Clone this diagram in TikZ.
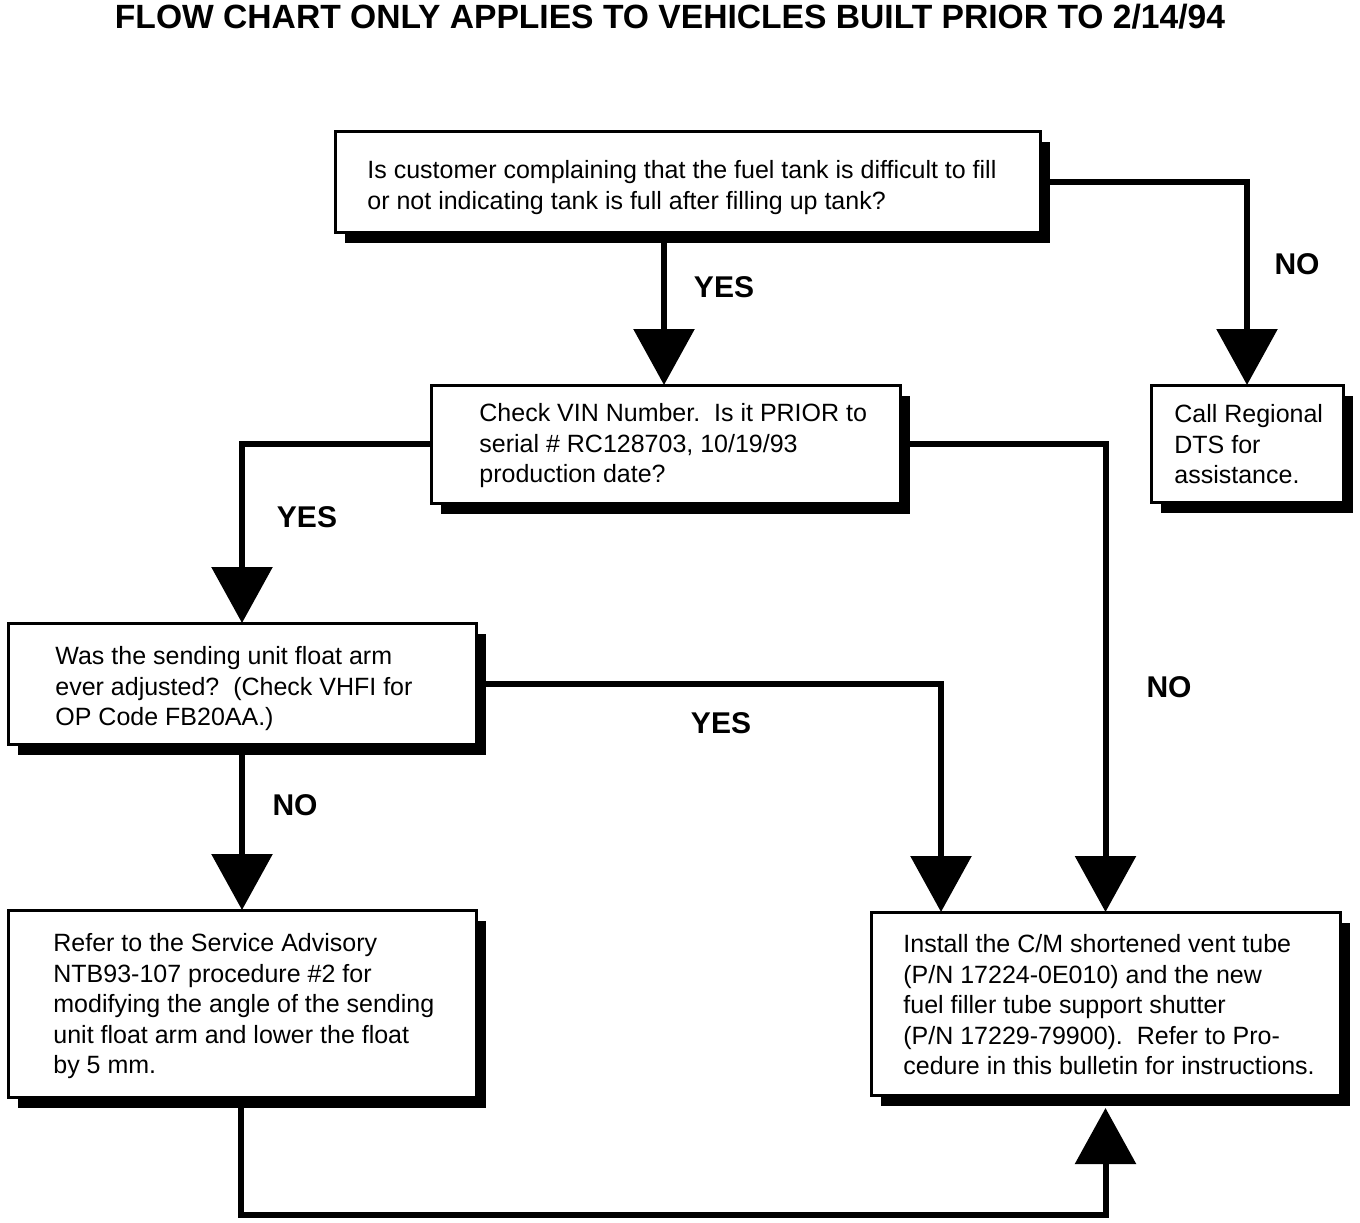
\documentclass[tikz,border=0pt]{standalone}
\usepackage{fontspec}
\setmainfont{Liberation Sans}
\usetikzlibrary{arrows.meta,shadows}
\begin{document}
\begin{tikzpicture}[x=0.5pt,y=-0.5pt,
  box/.style={draw=black,line width=1.5pt,fill=white,inner sep=0pt,outer sep=0pt,
    drop shadow={shadow xshift=5pt,shadow yshift=-5.5pt,opacity=1,fill=black}},
  txt/.style={anchor=north west,align=left,inner sep=0pt,font=\fontsize{12.5}{15.25}\selectfont},
  lbl/.style={font=\fontsize{15}{18}\selectfont\bfseries,inner sep=0pt},
  arr/.style={line width=3pt,-{Triangle[width=30pt,length=28pt]}},
  ln/.style={line width=3pt}]
\useasboundingbox (0,0) rectangle (1360,1222);
\node[font=\bfseries,inner sep=0pt] (title) at (670,17) {\resizebox{555pt}{!}{FLOW CHART ONLY APPLIES TO VEHICLES BUILT PRIOR TO 2/14/94}};
% boxes
\node[box,minimum width=352.5pt,minimum height=50.5pt] (q1) at (687.5,181.5) {};
\node[box,minimum width=234.5pt,minimum height=59pt] (vin) at (665.5,444) {};
\node[box,minimum width=96pt,minimum height=58.5pt] (call) at (1247,443.5) {};
\node[box,minimum width=234pt,minimum height=60.5pt] (fl) at (242,683.5) {};
\node[box,minimum width=234pt,minimum height=93.5pt] (ref) at (242,1003.5) {};
\node[box,minimum width=234.5pt,minimum height=91.5pt] (inst) at (1105.5,1003.5) {};
% texts
\node[txt] (q1t) at (367,160) {Is customer complaining that the fuel tank is difficult to fill\\or not indicating tank is full after filling up tank?};
\node[txt] (vint) at (479,403) {Check VIN Number.\ \ Is it PRIOR to\\serial \# RC128703, 10/19/93\\production date?};
\node[txt] (callt) at (1174,404) {Call Regional\\DTS for\\assistance.};
\node[txt] (flt) at (55,646) {Was the sending unit float arm\\ever adjusted?\ \ (Check VHFI for\\OP Code FB20AA.)};
\node[txt] (reft) at (53,933) {Refer to the Service Advisory\\NTB93-107 procedure \#2 for\\modifying the angle of the sending\\unit float arm and lower the float\\by 5 mm.};
\node[txt] (instt) at (903,934) {Install the C/M shortened vent tube\\(P/N 17224-0E010) and the new\\fuel filler tube support shutter\\(P/N 17229-79900).\ \ Refer to Pro-\\cedure in this bulletin for instructions.};
% connectors
\coordinate (c1) at (241,1215);
\coordinate (instb) at (1105.5,1108);
\draw[arr] (664,0 |- q1.south) -- (664,0 |- vin.north);
\draw[arr] (q1.east) -| (call.north);
\draw[arr] (vin.west) -| (fl.north);
\draw[arr] (vin.east) -| (inst.north);
\draw[arr] (fl.east) -| (941,0 |- inst.north);
\draw[arr] (fl.south) -- (ref.north);
\draw[arr] (241,0 |- ref.south) -- (c1) -| (instb);
% labels
\node[lbl] (l1) at (724,287) {YES};
\node[lbl] (l2) at (1297,264) {NO};
\node[lbl] (l3) at (307,517) {YES};
\node[lbl] (l4) at (1169,687) {NO};
\node[lbl] (l5) at (721,723) {YES};
\node[lbl] (l6) at (295,805) {NO};
\end{tikzpicture}
\end{document}
